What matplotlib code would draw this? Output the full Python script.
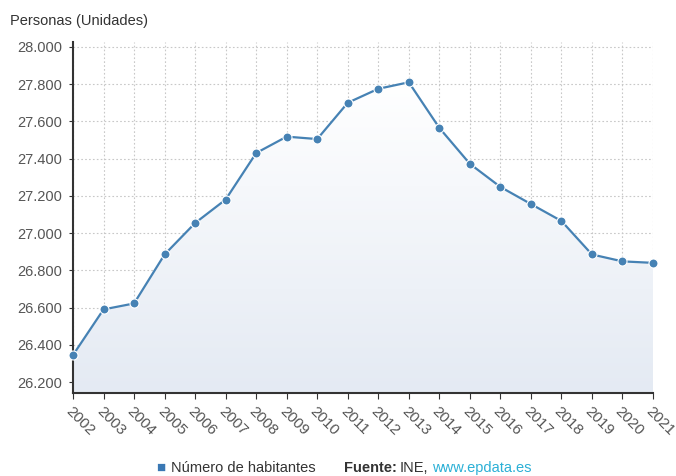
import matplotlib.pyplot as plt
import matplotlib.ticker as mticker
import numpy as np
from matplotlib.patches import Polygon

years = list(range(2002, 2022))
habitantes = [26345, 26590, 26622, 26885, 27054, 27180, 27430, 27518, 27505, 27700,
              27775, 27810, 27565, 27372, 27248, 27156, 27065, 26885, 26848, 26840]
yticks = [26200, 26400, 26600, 26800, 27000, 27200, 27400, 27600, 27800, 28000]

plt.rcParams['font.family'] = ['Liberation Sans', 'DejaVu Sans']

line_color = '#4682b4'

fig = plt.figure(figsize=(6.76, 4.76), dpi=100)
ax = fig.add_axes([0.108, 0.174, 0.858, 0.738])

ymin, ymax = 26140, 28027
ax.set_xlim(years[0], years[-1])
ax.set_ylim(ymin, ymax)

# Gradient fill under the line
grad = np.linspace(0, 1, 256).reshape(-1, 1)
top = np.array([1.0, 1.0, 1.0])
bottom = np.array([0xe4, 0xea, 0xf3]) / 255
img = top + (bottom - top) * grad
img = img.reshape(256, 1, 3)
im = ax.imshow(img, extent=[years[0], years[-1], ymin, max(habitantes)],
               aspect='auto', origin='upper', zorder=1)
verts = [(years[0], ymin)] + list(zip(years, habitantes)) + [(years[-1], ymin)]
poly = Polygon(verts, closed=True, facecolor='none', edgecolor='none')
ax.add_patch(poly)
im.set_clip_path(poly)

ax.plot(years, habitantes, color=line_color, linewidth=1.6, zorder=3, clip_on=False)
ax.plot(years, habitantes, 'o', color=line_color, markersize=6.5,
        markeredgecolor='white', markeredgewidth=0.8, zorder=4, clip_on=False)

ax.set_xticks(years)
ax.set_xticklabels([str(y) for y in years], rotation=-45, ha='left', va='top',
                   rotation_mode='anchor', fontsize=11, color='#555555')
ax.set_yticks(yticks)
ax.yaxis.set_major_formatter(mticker.FuncFormatter(lambda v, p: f'{int(v):,}'.replace(',', '.')))
ax.tick_params(axis='y', labelsize=10.5, labelcolor='#555555', length=3, color='#333333', pad=5)
ax.tick_params(axis='x', length=4, color='#333333', pad=4)

ax.grid(True, linestyle=(0, (1.5, 2)), color='#c8c8c8', linewidth=0.8, zorder=0)
ax.set_axisbelow(True)

for s in ['top', 'right']:
    ax.spines[s].set_visible(False)
ax.spines['left'].set_color('#333333')
ax.spines['bottom'].set_color('#333333')
ax.spines['left'].set_linewidth(1.5)
ax.spines['bottom'].set_linewidth(1.5)

fig.text(10 / 676, 1 - 21 / 476, 'Personas (Unidades)', fontsize=10.5, color='#333333',
         ha='left', va='center')

# Legend and source line
ly = 1 - 468 / 476
fig.text(156 / 676, ly, '■', fontsize=11, color='#3a78b4', ha='left', va='center')
fig.text(171 / 676, ly, 'Número de habitantes', fontsize=10.5, color='#333333',
         ha='left', va='center')
fig.text(344 / 676, ly, 'Fuente:', fontsize=10.5, color='#333333', fontweight='bold',
         ha='left', va='center')
fig.text(400 / 676, ly, 'INE,', fontsize=10.5, color='#333333', ha='left', va='center')
fig.text(432 / 676, ly, 'www.epdata.es', fontsize=10.5, color='#2bb0d6', ha='left', va='center')

fig.savefig('out.png', dpi=100)
